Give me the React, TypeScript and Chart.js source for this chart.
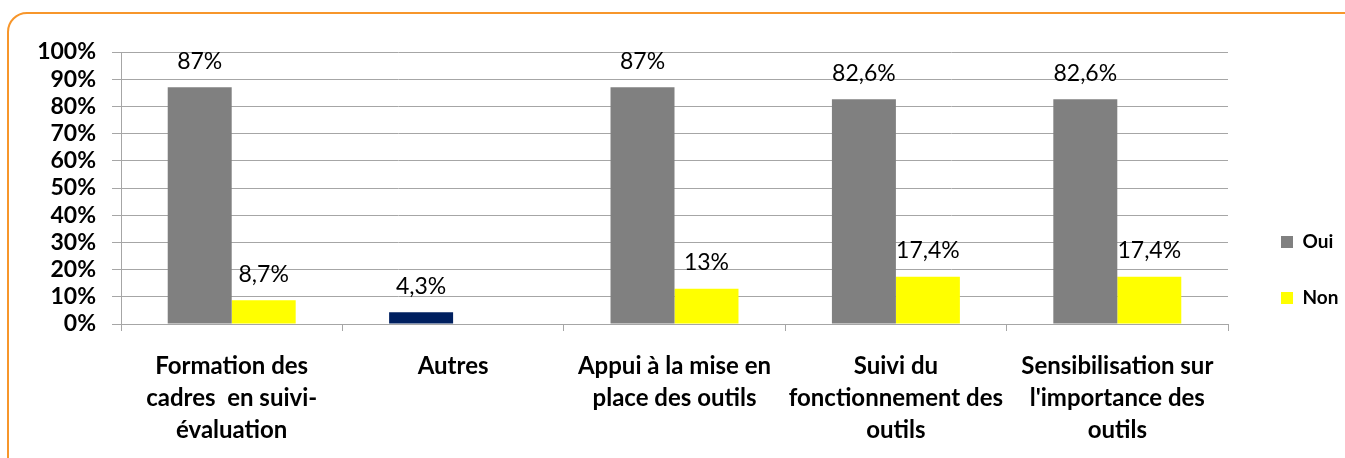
import React, { useEffect, useRef } from "react";
import { Chart, registerables } from "chart.js";

Chart.register(...registerables);

const categories: string[][] = [
  ["Formation des", "cadres  en suivi-", "évaluation"],
  ["Autres"],
  ["Appui à la mise en", "place des outils"],
  ["Suivi du", "fonctionnement des", "outils"],
  ["Sensibilisation sur", "l'importance des", "outils"],
];
const seriesNames = ["Oui", "Non"];
const ouiValues: (number | null)[] = [87, 4.3, 87, 82.6, 82.6];
const nonValues: (number | null)[] = [8.7, null, 13, 17.4, 17.4];
const yTicks = [0, 10, 20, 30, 40, 50, 60, 70, 80, 90, 100];

const GRAY = "#808080";
const NAVY = "#002060";
const YELLOW = "#FFFF00";
const GRID = "#a6a6a6";
const FONT = "Lato";

const fmt = (v: number) => String(v).replace(".", ",") + "%";

const dataLabelPlugin = {
  id: "dataLabels",
  afterDatasetsDraw(chart: any) {
    const ctx = chart.ctx;
    ctx.save();
    ctx.font = `23px ${FONT}`;
    ctx.fillStyle = "#000";
    ctx.textAlign = "center";
    ctx.textBaseline = "middle";
    chart.data.datasets.forEach((ds: any, i: number) => {
      const meta = chart.getDatasetMeta(i);
      meta.data.forEach((el: any, j: number) => {
        const v = ds.data[j];
        if (v === null || v === undefined) return;
        ctx.fillText(fmt(v), el.x, el.y - 26);
      });
    });
    ctx.restore();
  },
};

export default function App() {
  const ref = useRef<HTMLCanvasElement | null>(null);
  useEffect(() => {
    if (!ref.current) return;
    const chart = new Chart(ref.current, {
      type: "bar",
      data: {
        labels: categories,
        datasets: [
          {
            label: seriesNames[0],
            data: ouiValues,
            backgroundColor: (c: any) => (c.dataIndex === 1 ? NAVY : GRAY),
            borderWidth: 0,
            categoryPercentage: 0.578,
            barPercentage: 1,
          },
          {
            label: seriesNames[1],
            data: nonValues,
            backgroundColor: YELLOW,
            borderWidth: 0,
            categoryPercentage: 0.578,
            barPercentage: 1,
          },
        ],
      },
      options: {
        animation: false,
        responsive: false,
        maintainAspectRatio: false,
        layout: { padding: { top: 52, bottom: 12, left: 0, right: 2 } },
        plugins: {
          tooltip: { enabled: false },
          legend: {
            position: "right",
            align: "center",
            maxWidth: 99,
            labels: {
              boxWidth: 12,
              boxHeight: 12,
              padding: 37,
              color: "#000",
              font: { family: FONT, size: 19, weight: "bold" },
            },
          },
        },
        scales: {
          x: {
            grid: {
              offset: true,
              drawOnChartArea: false,
              tickLength: 7,
              color: GRID,
            },
            border: { color: GRID },
            ticks: {
              autoSkip: false,
              maxRotation: 0,
              minRotation: 0,
              padding: 19,
              color: "#000",
              font: { family: FONT, size: 24, weight: "bold", lineHeight: "32px" },
            },
            afterFit: (s: any) => {
              s.height = 164;
            },
          },
          y: {
            min: 0,
            max: 100,
            afterBuildTicks: (s: any) => {
              s.ticks = yTicks.map((v) => ({ value: v }));
            },
            grid: { color: GRID, tickLength: 9 },
            border: { color: GRID },
            ticks: {
              autoSkip: false,
              padding: 16,
              color: "#000",
              font: { family: FONT, size: 23, weight: "bold" },
              callback: (v: any) => v + "%",
            },
            afterFit: (s: any) => {
              s.width = 121;
            },
          },
          yRight: {
            type: "linear",
            position: "right",
            display: true,
            grid: { display: false, drawTicks: false },
            border: { display: false },
            ticks: { display: false },
            afterFit: (s: any) => {
              s.width = 16;
            },
          },
        },
      },
      plugins: [dataLabelPlugin],
    } as any);
    return () => chart.destroy();
  }, []);

  return (
    <div
      style={{
        position: "fixed",
        left: 0,
        top: 0,
        width: 1345,
        height: 458,
        overflow: "hidden",
        background: "#fff",
      }}
    >
      <div
        style={{
          position: "absolute",
          left: 7,
          top: 12,
          width: 1400,
          height: 520,
          border: "2px solid #F7962B",
          borderRadius: 20,
          boxSizing: "border-box",
        }}
      />
      <canvas
        ref={ref}
        width={1345}
        height={500}
        style={{ position: "absolute", left: 0, top: 0, width: 1345, height: 500 }}
      />
    </div>
  );
}
